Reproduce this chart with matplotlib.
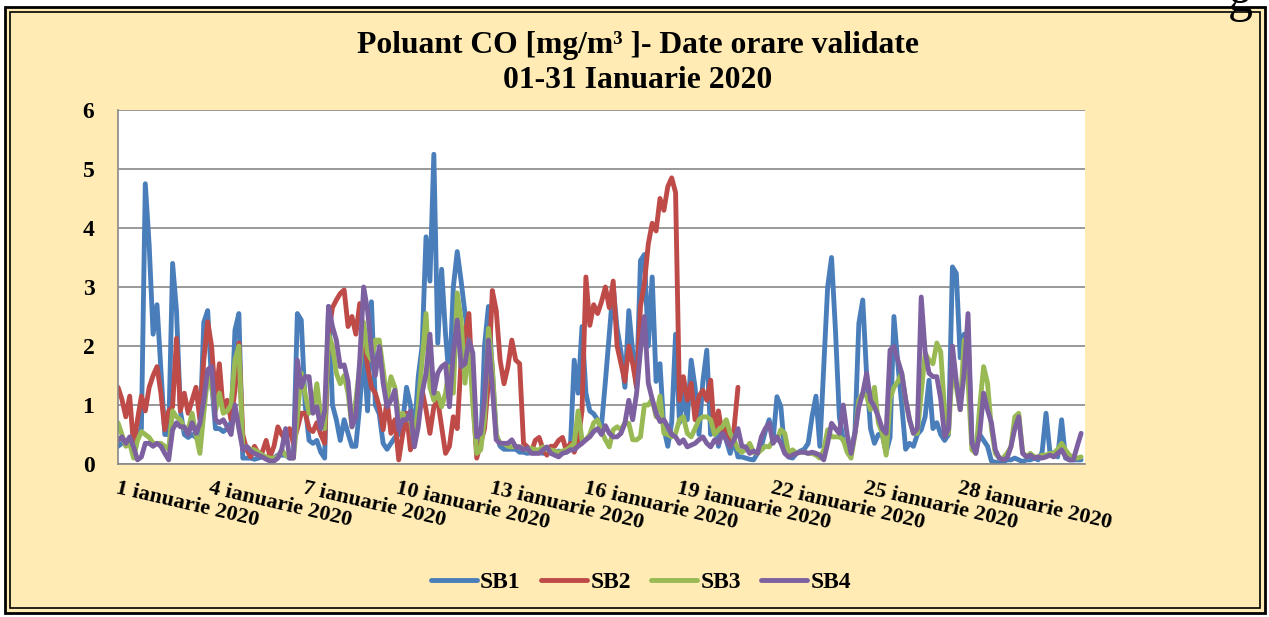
import numpy as np
import matplotlib
matplotlib.use("Agg")
import matplotlib.pyplot as plt
from matplotlib.patches import Rectangle
from matplotlib.lines import Line2D

W, H = 1269, 617
nan = np.nan

# 3-hourly readings (8 per day), 01-31 January 2020
sb1 = [
    0.30, 0.35, 0.40, 0.35, 0.45, 0.50, 0.60, 4.75,
    3.70, 2.20, 2.70, 1.60, 0.50, 0.50, 3.40, 2.60,
    0.90, 0.50, 0.45, 0.50, 0.45, 0.50, 2.40, 2.60,
    1.40, 0.60, 0.60, 0.55, 0.60, 0.70, 2.27, 2.55,
    0.10, 0.10, 0.10, 0.08, 0.10, 0.12, 0.10, 0.10,
    0.10, 0.15, 0.15, 0.15, 0.10, 0.12, 2.55, 2.44,
    1.00, 0.40, 0.35, 0.40, 0.20, 0.10, 2.67, 1.00,
    0.75, 0.40, 0.75, 0.52, 0.30, 0.30, 1.00, 1.93,
    0.90, 2.75, 1.00, 0.85, 0.35, 0.25, 0.35, 0.45,
    0.50, 0.70, 1.30, 1.00, 0.50, 1.48, 2.00, 3.85,
    3.10, 5.25, 2.05, 3.30, 2.20, 1.40, 3.00, 3.60,
    3.10, 2.55, 2.10, 1.50, 0.20, 0.25, 2.00, 2.67,
    1.60, 0.50, 0.30, 0.25, 0.25, 0.25, 0.25, 0.20,
    0.20, 0.18, 0.20, 0.22, 0.20, 0.18, 0.20, 0.20,
    0.20, 0.22, 0.20, 0.20, 0.25, 1.76, 1.20, 2.33,
    1.20, 0.90, 0.85, 0.75, 0.65, 1.40, 2.20, 3.00,
    2.30, 1.90, 1.30, 2.60, 1.90, 1.30, 3.45, 3.55,
    2.00, 3.17, 1.40, 1.70, 0.60, 0.30, 0.70, 2.20,
    0.70, 1.20, 0.75, 1.76, 1.30, 0.50, 1.40, 1.93,
    0.50, 0.75, 0.30, 0.60, 0.40, 0.18, 0.40, 0.12,
    0.12, 0.10, 0.08, 0.07, 0.18, 0.30, 0.55, 0.75,
    0.40, 1.14, 0.97, 0.20, 0.12, 0.10, 0.18, 0.22,
    0.25, 0.35, 0.80, 1.15, 0.30, 1.65, 3.00, 3.50,
    2.27, 0.80, 0.40, 0.35, 0.18, 0.55, 2.38, 2.78,
    1.50, 0.60, 0.35, 0.50, 0.50, 0.20, 0.45, 2.50,
    1.70, 1.00, 0.25, 0.35, 0.30, 0.50, 0.58, 0.80,
    1.42, 0.60, 0.70, 0.50, 0.40, 0.50, 3.34, 3.23,
    1.80, 2.20, 2.20, 0.40, 0.24, 0.50, 0.40, 0.30,
    0.05, 0.03, 0.02, 0.03, 0.07, 0.07, 0.10, 0.07,
    0.04, 0.07, 0.07, 0.10, 0.07, 0.20, 0.86, 0.20,
    0.18, 0.12, 0.75, 0.10, 0.07, 0.07, 0.07, 0.07,
]

sb2 = [
    1.30, 1.10, 0.80, 1.15, 0.30, 0.75, 1.15, 0.90,
    1.30, 1.50, 1.65, 1.20, 0.58, 0.90, 0.97, 2.13,
    0.90, 1.20, 0.86, 1.08, 1.30, 0.75, 1.76, 2.41,
    2.00, 1.10, 1.70, 0.90, 1.08, 0.75, 1.25, 2.05,
    0.50, 0.24, 0.12, 0.30, 0.18, 0.20, 0.40, 0.12,
    0.30, 0.63, 0.50, 0.40, 0.60, 0.35, 0.60, 0.86,
    0.86, 0.60, 0.55, 0.70, 0.50, 0.35, 2.20, 2.65,
    2.78, 2.89, 2.95, 2.33, 2.50, 2.20, 2.72, 2.20,
    1.65, 1.30, 1.20, 0.97, 0.58, 1.08, 0.52, 0.75,
    0.07, 0.50, 0.86, 0.24, 0.52, 0.80, 1.25, 0.92,
    0.52, 0.97, 1.08, 0.63, 0.18, 0.30, 0.80, 0.60,
    1.76, 2.20, 2.55, 1.20, 0.10, 0.35, 0.60, 1.40,
    2.94, 2.60, 1.76, 1.36, 1.65, 2.10, 1.76, 1.70,
    0.35, 0.29, 0.20, 0.40, 0.45, 0.25, 0.15, 0.30,
    0.30, 0.40, 0.45, 0.22, 0.35, 0.20, 0.40, 0.90,
    3.17, 2.35, 2.70, 2.55, 2.75, 3.00, 2.65, 3.10,
    2.00, 1.70, 1.40, 2.00, 1.70, 1.30, 2.67, 3.06,
    3.73, 4.08, 3.95, 4.50, 4.30, 4.70, 4.85, 4.60,
    1.08, 1.48, 1.08, 1.37, 0.75, 1.15, 1.25, 1.08,
    1.42, 0.52, 0.90, 0.50, 0.69, 0.35, 0.60, 1.30,
] + [nan] * (11 * 8)

sb3 = [
    0.70, 0.50, 0.30, 0.35, 0.10, 0.40, 0.55, 0.50,
    0.45, 0.35, 0.35, 0.35, 0.30, 0.25, 0.90, 0.80,
    0.75, 0.60, 0.58, 0.86, 0.50, 0.18, 0.86, 1.48,
    1.30, 0.90, 1.20, 0.86, 0.90, 1.00, 1.76, 2.00,
    0.30, 0.29, 0.25, 0.24, 0.20, 0.15, 0.12, 0.10,
    0.10, 0.12, 0.24, 0.15, 0.12, 0.10, 0.80, 1.54,
    1.20, 0.86, 0.92, 1.36, 0.80, 0.60, 2.20, 2.00,
    1.54, 1.36, 1.50, 1.20, 0.63, 1.08, 1.65, 2.40,
    1.88, 1.76, 2.10, 2.10, 1.60, 1.08, 1.48, 1.30,
    0.80, 0.86, 0.75, 0.75, 0.35, 1.00, 1.76, 2.55,
    1.30, 1.08, 1.20, 0.97, 1.20, 1.65, 1.20, 2.90,
    2.44, 1.37, 2.10, 1.00, 0.18, 0.24, 0.75, 2.30,
    1.65, 0.50, 0.35, 0.35, 0.30, 0.29, 0.30, 0.29,
    0.25, 0.24, 0.27, 0.24, 0.24, 0.29, 0.24, 0.24,
    0.22, 0.20, 0.22, 0.24, 0.29, 0.35, 0.90, 0.41,
    0.41, 0.50, 0.70, 0.75, 0.55, 0.41, 0.29, 0.58,
    0.63, 0.58, 0.70, 0.69, 0.41, 0.41, 0.46, 1.00,
    1.00, 1.10, 0.80, 1.15, 0.52, 0.50, 0.46, 0.52,
    0.75, 0.80, 0.52, 0.46, 0.60, 0.75, 0.80, 0.80,
    0.75, 0.50, 0.58, 0.63, 0.75, 0.52, 0.41, 0.25,
    0.20, 0.25, 0.35, 0.20, 0.18, 0.24, 0.30, 0.29,
    0.40, 0.41, 0.58, 0.52, 0.18, 0.24, 0.18, 0.20,
    0.20, 0.18, 0.18, 0.15, 0.10, 0.24, 0.58, 0.46,
    0.46, 0.46, 0.41, 0.20, 0.10, 0.50, 1.08, 1.20,
    1.15, 0.92, 1.30, 0.70, 0.52, 0.15, 1.10, 1.30,
    1.40, 1.54, 1.08, 0.75, 0.52, 0.52, 1.20, 1.88,
    1.76, 1.70, 2.05, 1.90, 0.90, 0.52, 1.65, 1.30,
    0.92, 2.10, 1.40, 0.24, 0.18, 0.97, 1.65, 1.37,
    0.60, 0.18, 0.10, 0.10, 0.18, 0.29, 0.80, 0.86,
    0.20, 0.12, 0.18, 0.12, 0.12, 0.15, 0.15, 0.18,
    0.18, 0.25, 0.35, 0.24, 0.15, 0.12, 0.10, 0.12,
]

sb4 = [
    0.40, 0.46, 0.35, 0.46, 0.29, 0.07, 0.12, 0.35,
    0.35, 0.30, 0.35, 0.30, 0.18, 0.07, 0.58, 0.70,
    0.63, 0.63, 0.50, 0.70, 0.52, 0.69, 1.08, 1.60,
    1.65, 0.75, 0.70, 0.75, 0.63, 0.50, 1.00, 0.60,
    0.24, 0.30, 0.22, 0.18, 0.15, 0.12, 0.08, 0.05,
    0.05, 0.10, 0.25, 0.60, 0.10, 0.10, 1.76, 1.30,
    1.48, 1.48, 0.86, 0.97, 0.60, 0.90, 2.67, 2.33,
    2.10, 1.65, 1.68, 1.40, 0.63, 0.80, 1.76, 3.00,
    2.60, 1.93, 1.50, 1.99, 1.37, 0.97, 1.08, 1.25,
    0.58, 0.75, 0.75, 0.90, 0.29, 0.63, 1.20, 1.54,
    2.20, 1.20, 1.54, 1.65, 1.70, 0.97, 1.88, 2.44,
    1.65, 1.70, 2.10, 1.88, 0.46, 0.52, 1.10, 2.10,
    1.30, 0.41, 0.35, 0.35, 0.35, 0.41, 0.29, 0.29,
    0.24, 0.27, 0.18, 0.18, 0.18, 0.24, 0.29, 0.18,
    0.15, 0.12, 0.18, 0.20, 0.24, 0.24, 0.30, 0.35,
    0.41, 0.46, 0.55, 0.60, 0.50, 0.65, 0.52, 0.46,
    0.46, 0.52, 0.69, 1.08, 0.75, 1.20, 1.93, 2.50,
    1.37, 1.10, 0.86, 0.72, 0.75, 0.63, 0.50, 0.46,
    0.35, 0.41, 0.29, 0.32, 0.35, 0.41, 0.46, 0.35,
    0.29, 0.41, 0.35, 0.52, 0.41, 0.29, 0.41, 0.60,
    0.30, 0.29, 0.18, 0.22, 0.18, 0.46, 0.60, 0.69,
    0.35, 0.46, 0.35, 0.18, 0.12, 0.15, 0.18, 0.20,
    0.20, 0.18, 0.20, 0.18, 0.15, 0.07, 0.35, 0.69,
    0.60, 0.52, 1.00, 0.50, 0.18, 0.52, 0.97, 1.20,
    1.54, 1.08, 0.97, 0.80, 0.60, 0.52, 1.93, 1.99,
    1.76, 1.54, 1.10, 0.75, 0.52, 0.60, 2.83, 1.90,
    1.54, 1.48, 1.48, 1.10, 0.46, 0.60, 2.00, 1.40,
    0.92, 1.54, 2.55, 0.35, 0.18, 0.52, 1.20, 0.92,
    0.70, 0.24, 0.10, 0.07, 0.10, 0.29, 0.60, 0.80,
    0.18, 0.12, 0.15, 0.10, 0.12, 0.10, 0.12, 0.15,
    0.12, 0.18, 0.24, 0.12, 0.07, 0.07, 0.30, 0.52,
]

series_names = ["SB1", "SB2", "SB3", "SB4"]
series_colors = ["#4A7EBB", "#BE4B48", "#98B954", "#7D60A0"]
tick_days = [1, 4, 7, 10, 13, 16, 19, 22, 25, 28]
tick_labels = [f"{d} ianuarie 2020" for d in tick_days]
title_line1 = "Poluant CO [mg/m³ ]- Date orare validate"
title_line2 = "01-31 Ianuarie 2020"

SERIF = "Liberation Serif"
BG = "#FFEBB3"
GRID = "#888888"
LW = 3.5

fig = plt.figure(figsize=(W / 100, H / 100), dpi=100)
fig.patch.set_facecolor("white")


def fx(px):
    return px / W


def fy(py):
    return 1 - py / H


# framed beige background (double border)
fig.add_artist(Rectangle((fx(5), fy(613)), fx(1265) - fx(5), fy(7) - fy(613),
                         transform=fig.transFigure, facecolor=BG,
                         edgecolor="black", lw=2.0, zorder=-5))
fig.add_artist(Rectangle((fx(10), fy(608)), fx(1260) - fx(10), fy(12) - fy(608),
                         transform=fig.transFigure, facecolor="none",
                         edgecolor="black", lw=1.2, zorder=-4))

ax = fig.add_axes([fx(118), fy(464), fx(1085) - fx(118), fy(110) - fy(464)])
ax.set_facecolor("white")

hours = np.arange(len(sb1)) * 3
for name, vals, col in zip(series_names, [sb1, sb2, sb3, sb4], series_colors):
    ax.plot(hours, vals, color=col, lw=LW, solid_joinstyle="round",
            solid_capstyle="round", label=name)

ax.set_xlim(0, 31 * 24)
ax.set_ylim(0, 6)
ax.set_yticks(range(0, 7))
ax.yaxis.grid(True, color=GRID, lw=1.2)
ax.set_axisbelow(True)
for s in ["top", "right"]:
    ax.spines[s].set_visible(False)
for s in ["left", "bottom"]:
    ax.spines[s].set_color(GRID)
    ax.spines[s].set_linewidth(1.2)

ax.set_xticks([(d - 1) * 24 for d in tick_days])
ax.set_xticklabels(tick_labels, rotation=-13, ha="left", va="top",
                   rotation_mode="anchor", fontfamily=SERIF,
                   fontweight="bold", fontsize=16)
ax.tick_params(axis="x", length=0, pad=10)
ax.tick_params(axis="y", length=0, pad=17)
for lab in ax.get_yticklabels():
    lab.set_fontfamily(SERIF)
    lab.set_fontweight("bold")
    lab.set_fontsize(17)

fig.text(fx(638), fy(46), title_line1, ha="center", va="center",
         fontfamily=SERIF, fontweight="bold", fontsize=22.8)
fig.text(fx(638), fy(81), title_line2, ha="center", va="center",
         fontfamily=SERIF, fontweight="bold", fontsize=22.8)

handles = [Line2D([], [], color=c, lw=LW, solid_capstyle="round")
           for c in series_colors]
fig.legend(handles, series_names, loc="center",
           bbox_to_anchor=(fx(641), fy(582)), ncol=4, frameon=False,
           prop={"family": SERIF, "weight": "bold", "size": 17},
           handlelength=1.95, handletextpad=0.15, columnspacing=0.85)

# fragment of surrounding page text visible at top right
fig.text(fx(1240), fy(11), "g", ha="center", va="baseline",
         fontfamily=SERIF, fontsize=36)

fig.savefig("out.png", dpi=100, facecolor=fig.get_facecolor())
